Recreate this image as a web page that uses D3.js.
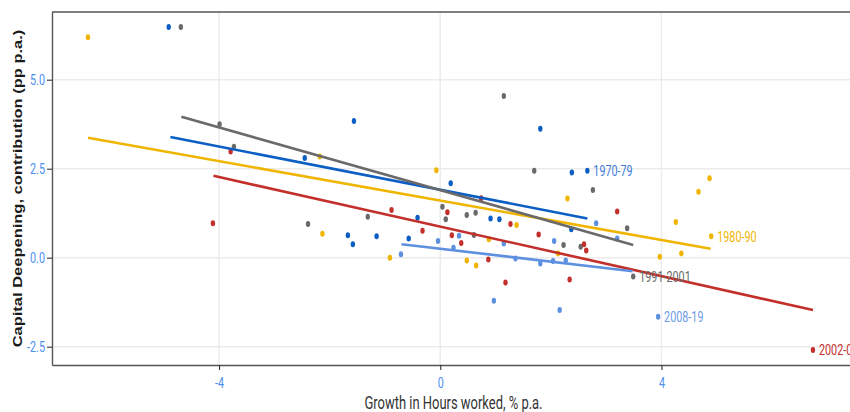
<!DOCTYPE html>
<html>
<head>
<meta charset="utf-8">
<title>Capital deepening vs hours worked</title>
<script src="https://cdn.jsdelivr.net/npm/d3@7"></script>
<style>
  body { margin: 0; background: #fff; }
  svg { display: block; font-family: Roboto, "Liberation Sans", sans-serif; }
</style>
</head>
<body>
<script>
// periods and their colours
var periods = ["1970-79", "1980-90", "1991-2001", "2002-07", "2008-19"];
var colors = ["#0b5ec4", "#efb500", "#6a6a6a", "#c3302b", "#5e90e0"];
var labelColors = ["#3d7bd6", "#efb500", "#6a6a6a", "#c3302b", "#6b9be6"];

// [hours growth, capital deepening] per period; last point of each is the labelled one
var p7079 = [[-4.91, 6.48], [-2.45, 2.80], [-1.56, 3.84], [-1.67, 0.63], [-1.58, 0.38], [-1.15, 0.60],
  [-0.57, 0.54], [-0.41, 1.12], [0.19, 2.09], [0.91, 1.10], [1.07, 1.08], [1.81, 3.62], [2.37, 0.80],
  [2.38, 2.39], [2.66, 2.44]];
var p8090 = [[-6.37, 6.19], [-2.18, 2.84], [-2.13, 0.67], [-0.91, 0.00], [-0.07, 2.46], [0.48, -0.08],
  [0.65, -0.22], [0.88, 0.52], [1.38, 0.92], [2.13, 0.12], [2.30, 1.66], [3.97, 0.03], [4.26, 1.00],
  [4.36, 0.12], [4.67, 1.85], [4.87, 2.23], [4.90, 0.60]];
var p9101 = [[-4.69, 6.48], [-3.99, 3.75], [-3.73, 3.12], [-2.39, 0.95], [-1.31, 1.15], [0.04, 1.43],
  [0.10, 1.08], [0.48, 1.20], [0.61, 0.64], [0.64, 1.26], [1.15, 4.54], [1.70, 2.44], [2.23, 0.36],
  [2.54, 0.31], [2.76, 1.90], [3.38, 0.83], [3.49, -0.53]];
var p0207 = [[-4.11, 0.97], [-3.79, 2.98], [-0.88, 1.34], [-0.32, 0.76], [0.13, 1.28], [0.21, 0.63],
  [0.38, 0.41], [0.74, 1.67], [0.87, -0.05], [1.18, -0.70], [1.27, 0.95], [1.78, 0.65], [2.34, -0.61],
  [2.60, 0.38], [2.64, 0.20], [3.20, 1.30], [6.74, -2.59]];
var p0819 = [[-0.71, 0.10], [-0.04, 0.47], [0.24, 0.28], [0.34, 0.62], [0.97, -1.21], [1.15, 0.40],
  [1.36, -0.02], [1.81, -0.16], [2.04, -0.09], [2.06, 0.47], [2.16, -1.47], [2.27, -0.08], [2.82, 0.97],
  [3.20, 0.54], [3.94, -1.66]];
var points = [p7079, p8090, p9101, p0207, p0819];

// fitted lines, start and end
var fitFrom = [[-4.88, 3.39], [-6.37, 3.37], [-4.68, 3.96], [-4.10, 2.30], [-0.70, 0.38]];
var fitTo = [[2.66, 1.10], [4.89, 0.25], [3.49, 0.36], [6.74, -1.47], [3.48, -0.38]];

var xTicks = [-4, 0, 4];
var yTicks = [-2.5, 0, 2.5, 5];

var w = 850, h = 412;
var pLeft = 52, pRight = 855, pTop = 12, pBottom = 365;
var sx = 0.72; // text in the picture is horizontally squeezed

var x = d3.scaleLinear().domain([-7.02, 7.50]).range([pLeft, pRight]);
var y = d3.scaleLinear().domain([-3.014, 6.902]).range([pBottom, pTop]);

var svg = d3.select("body").append("svg")
  .attr("width", w)
  .attr("height", h);

// grid
svg.append("g").selectAll("line").data(xTicks).enter().append("line")
  .attr("x1", function (d) { return x(d); }).attr("x2", function (d) { return x(d); })
  .attr("y1", pTop).attr("y2", pBottom)
  .attr("stroke", "#ebebeb").attr("stroke-width", 1.4);
svg.append("g").selectAll("line").data(yTicks).enter().append("line")
  .attr("x1", pLeft).attr("x2", pRight)
  .attr("y1", function (d) { return y(d); }).attr("y2", function (d) { return y(d); })
  .attr("stroke", "#ebebeb").attr("stroke-width", 1.4);

// top border
svg.append("line")
  .attr("x1", pLeft).attr("x2", pRight).attr("y1", pTop).attr("y2", pTop)
  .attr("stroke", "#555").attr("stroke-width", 1.4);

// axes
var xAxis = svg.append("g")
  .attr("transform", "translate(0," + pBottom + ")")
  .call(d3.axisBottom(x).tickValues(xTicks).tickSize(5).tickSizeOuter(0).tickPadding(7)
    .tickFormat(function (d) { return String(d); }));
var yAxis = svg.append("g")
  .attr("transform", "translate(" + pLeft + ",0)")
  .call(d3.axisLeft(y).tickValues(yTicks).tickSize(5).tickSizeOuter(0)
    .tickFormat(function (d) { return d.toFixed(1); }));

[xAxis, yAxis].forEach(function (a) {
  a.select(".domain").attr("stroke", "#555").attr("stroke-width", 1.4);
  a.selectAll(".tick line").attr("stroke", "#333").attr("stroke-width", 1.1);
  a.selectAll(".tick text")
    .attr("fill", "#4a90f0")
    .attr("font-size", 15)
    .attr("font-family", "Roboto, sans-serif");
});
xAxis.selectAll(".tick text").attr("transform", "scale(" + sx + ",1)");
yAxis.selectAll(".tick text").attr("x", 0).attr("transform", "translate(-7,0) scale(" + sx + ",1)");

// points
var series = svg.append("g");
points.forEach(function (pts, i) {
  series.append("g").selectAll("ellipse").data(pts).enter().append("ellipse")
    .attr("cx", function (d) { return x(d[0]); })
    .attr("cy", function (d) { return y(d[1]); })
    .attr("rx", 2.2).attr("ry", 3)
    .attr("fill", colors[i]);
});

// fit lines
periods.forEach(function (p, i) {
  svg.append("line")
    .attr("x1", x(fitFrom[i][0])).attr("y1", y(fitFrom[i][1]))
    .attr("x2", x(fitTo[i][0])).attr("y2", y(fitTo[i][1]))
    .attr("stroke", colors[i]).attr("stroke-width", 2.6)
    .attr("stroke-linecap", "butt");
});

// period labels next to the last point
periods.forEach(function (p, i) {
  var last = points[i][points[i].length - 1];
  svg.append("text")
    .attr("transform", "translate(" + (x(last[0]) + 6) + "," + y(last[1]) + ") scale(" + sx + ",1)")
    .attr("dy", "0.35em")
    .attr("font-size", 15)
    .attr("fill", labelColors[i])
    .text(p);
});

// axis titles
svg.append("text")
  .attr("transform", "translate(" + ((pLeft + pRight) / 2) + ",409) scale(" + sx + ",1)")
  .attr("text-anchor", "middle")
  .attr("font-size", 18)
  .attr("fill", "#333")
  .text("Growth in Hours worked, % p.a.");

svg.append("text")
  .attr("transform", "translate(22," + ((pTop + pBottom) / 2) + ") scale(" + sx + ",1) rotate(-90)")
  .attr("text-anchor", "middle")
  .attr("font-family", "'Liberation Sans', Arial, sans-serif")
  .attr("font-weight", "bold")
  .attr("font-size", 16.5)
  .attr("fill", "#1a1a1a")
  .text("Capital Deepening, contribution (pp p.a.)");
</script>
</body>
</html>
